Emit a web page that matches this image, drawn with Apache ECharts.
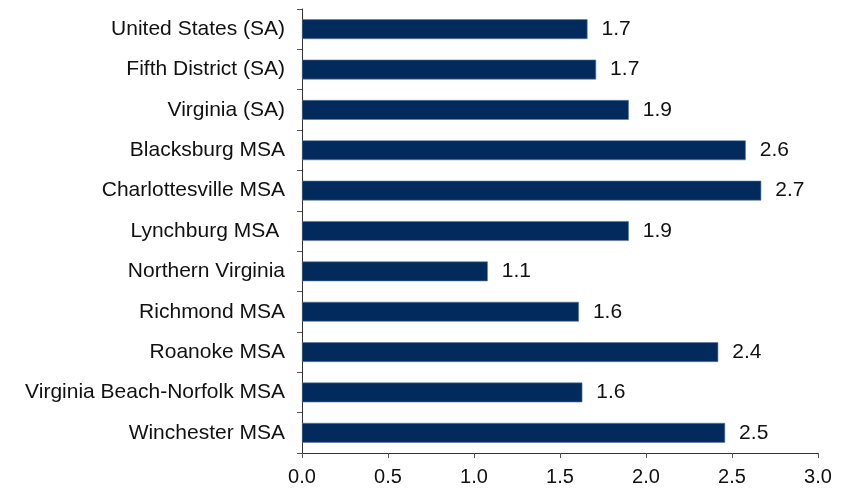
<!DOCTYPE html>
<html>
<head>
<meta charset="utf-8">
<script src="https://cdn.jsdelivr.net/npm/echarts@6/dist/echarts.min.js"></script>
<style>
  html, body { margin: 0; padding: 0; background: #fff; }
  #chart { width: 852px; height: 489px; }
</style>
</head>
<body>
<div id="chart"></div>
<script>
// categories, top to bottom
var regions = [
  'United States (SA)',
  'Fifth District (SA)',
  'Virginia (SA)',
  'Blacksburg MSA',
  'Charlottesville MSA',
  'Lynchburg MSA ',
  'Northern Virginia',
  'Richmond MSA',
  'Roanoke MSA',
  'Virginia Beach-Norfolk MSA',
  'Winchester MSA'
];
// values
var growth = [1.66, 1.71, 1.90, 2.58, 2.67, 1.90, 1.08, 1.61, 2.42, 1.63, 2.46];
var xTicks = [0, 0.5, 1.0, 1.5, 2.0, 2.5, 3.0];

var chart = echarts.init(document.getElementById('chart'));
var font = 'Liberation Sans, Arial, sans-serif';

var option = {
  animation: false,
  grid: { left: 302, right: 34, top: 9, bottom: 36, containLabel: false },
  xAxis: {
    type: 'value',
    min: xTicks[0],
    max: xTicks[xTicks.length - 1],
    interval: 0.5,
    splitLine: { show: false },
    axisLine: { show: true, lineStyle: { color: '#333', width: 1 } },
    axisTick: { show: true, length: 5, lineStyle: { color: '#555' } },
    axisLabel: {
      color: '#111', fontFamily: font, fontSize: 20, margin: 14,
      formatter: function (v) { return v.toFixed(1); }
    }
  },
  yAxis: {
    type: 'category',
    data: regions,
    inverse: true,
    axisLine: { show: true, lineStyle: { color: '#333', width: 1 } },
    axisTick: { show: true, length: 5, lineStyle: { color: '#555' } },
    axisLabel: { color: '#111', fontFamily: font, fontSize: 21, margin: 17 }
  },
  series: [{
    type: 'bar',
    data: growth,
    barWidth: '49%',
    itemStyle: { color: '#022a5c', borderColor: '#5d7aa0', borderWidth: 0.6 },
    label: {
      show: true,
      position: 'right',
      distance: 14,
      color: '#111',
      fontFamily: font,
      fontSize: 21,
      formatter: function (p) { return p.value.toFixed(1); }
    }
  }]
};
chart.setOption(option);
</script>
</body>
</html>
